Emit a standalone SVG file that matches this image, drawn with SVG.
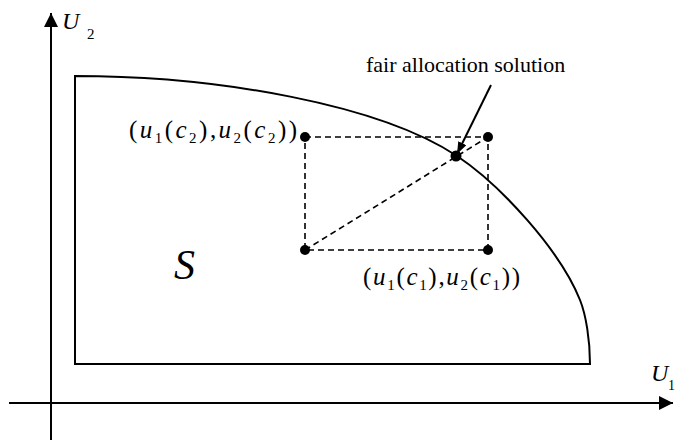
<svg xmlns="http://www.w3.org/2000/svg" width="677" height="440" viewBox="0 0 677 440">
<style>
  .ln { fill: none; stroke: #000; stroke-width: 2; }
  .dash { fill: none; stroke: #000; stroke-width: 1.6; stroke-dasharray: 6 4; }
  .dot { fill: #000; }
  .tx { font-family: "Liberation Serif", "Times New Roman", Times, "DejaVu Serif", serif; fill: #000; }
  .it { font-style: italic; }
</style>
<defs>
  <marker id="axhead" markerUnits="userSpaceOnUse" markerWidth="15" markerHeight="14" refX="14" refY="7" orient="auto">
    <path d="M0,0 L14,7 L0,14 z" fill="#000"/>
  </marker>
  <marker id="ptr" markerUnits="userSpaceOnUse" markerWidth="13" markerHeight="9" refX="12" refY="4.5" orient="auto">
    <path d="M0,0 L12,4.5 L0,9 z" fill="#000"/>
  </marker>
</defs>

<g id="axes">
  <line class="ln" x1="51" y1="440" x2="51" y2="13" marker-end="url(#axhead)"/>
  <line class="ln" x1="9" y1="403" x2="673" y2="403" marker-end="url(#axhead)"/>
  <text class="tx it" x="62" y="29" font-size="24">U</text>
  <text class="tx" x="87" y="39" font-size="15">2</text>
  <text class="tx it" x="651" y="381" font-size="24">U</text>
  <text class="tx" x="668" y="390" font-size="14">1</text>
</g>

<g id="region">
  <path class="ln" d="M75,364 L75,76 C220,76 380,105 457,156 C500,184.5 560,250 580,300 C586,315 590,340 590,364 Z"/>
  <text class="tx it" x="174" y="279" font-size="42">S</text>
</g>

<g id="connectors">
  <path class="dash" d="M305,137 L488,137 L488,250 L305,250 Z"/>
  <line class="dash" x1="305" y1="250" x2="488" y2="137"/>
  <line class="ln" stroke-width="1.8" x1="491" y1="85" x2="457" y2="154" marker-end="url(#ptr)"/>
</g>

<g id="point-c2">
  <circle class="dot" cx="305" cy="137" r="5"/>
  <text class="tx" x="129" y="138" font-size="25" textLength="168" lengthAdjust="spacing">(<tspan class="it">u</tspan><tspan font-size="15" dy="5">1</tspan><tspan dy="-5">(</tspan><tspan class="it">c</tspan><tspan font-size="15" dy="5">2</tspan><tspan dy="-5">),</tspan><tspan class="it">u</tspan><tspan font-size="15" dy="5">2</tspan><tspan dy="-5">(</tspan><tspan class="it">c</tspan><tspan font-size="15" dy="5">2</tspan><tspan dy="-5">))</tspan></text>
</g>

<g id="point-c1">
  <circle class="dot" cx="488" cy="250" r="5"/>
  <text class="tx" x="363" y="285" font-size="25" textLength="157" lengthAdjust="spacing">(<tspan class="it">u</tspan><tspan font-size="15" dy="5">1</tspan><tspan dy="-5">(</tspan><tspan class="it">c</tspan><tspan font-size="15" dy="5">1</tspan><tspan dy="-5">),</tspan><tspan class="it">u</tspan><tspan font-size="15" dy="5">2</tspan><tspan dy="-5">(</tspan><tspan class="it">c</tspan><tspan font-size="15" dy="5">1</tspan><tspan dy="-5">))</tspan></text>
</g>

<g id="corner-ll">
  <circle class="dot" cx="305" cy="250" r="5"/>
</g>
<g id="corner-ur">
  <circle class="dot" cx="488" cy="137" r="5"/>
</g>

<g id="fair-solution">
  <circle class="dot" cx="456" cy="156" r="5.5"/>
  <text class="tx" x="366" y="72" font-size="22">fair allocation solution</text>
</g>
</svg>
